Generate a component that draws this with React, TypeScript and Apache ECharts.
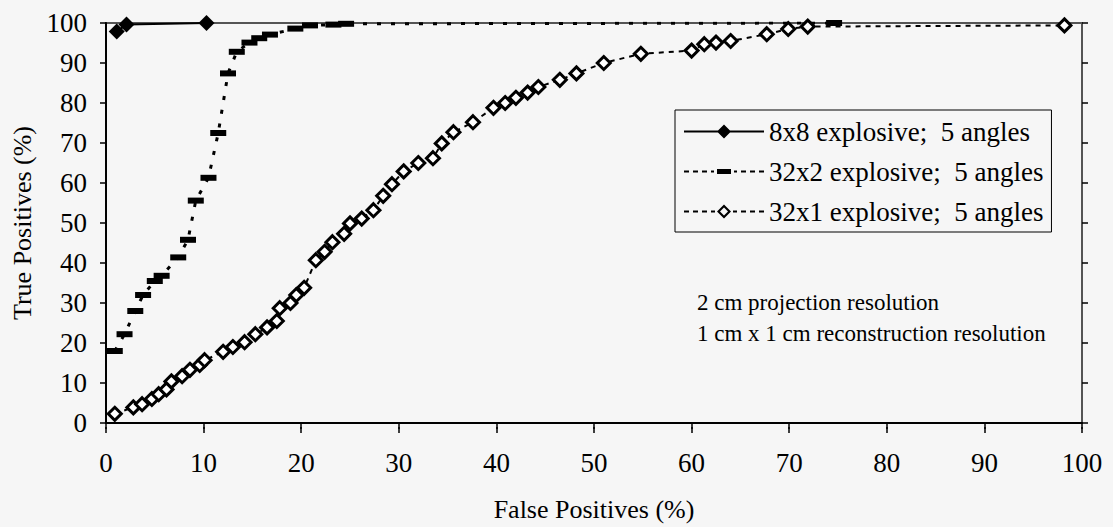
import { useEffect, useRef } from 'react';
import * as echarts from 'echarts';

const FONT = "'Liberation Serif', 'Times New Roman', serif";

const seriesNames = ['8x8 explosive;  5 angles', '32x2 explosive;  5 angles', '32x1 explosive;  5 angles'];

// [false positives %, true positives %]
const s8x8: number[][] = [[1.1, 97.9], [2.1, 99.6], [10.3, 100]];

const s32x2: number[][] = [
  [0.9, 18.0], [1.9, 22.2], [3.0, 28.0], [3.8, 32.0], [5.0, 35.5], [5.7, 36.8], [7.4, 41.4],
  [8.4, 45.8], [9.2, 55.6], [10.5, 61.3], [11.5, 72.5], [12.5, 87.4], [13.4, 92.8], [14.7, 95.1],
  [15.7, 96.2], [16.8, 97.1], [19.4, 98.6], [20.9, 99.4], [23.3, 99.6], [24.6, 99.8], [74.6, 100]
];

const s32x1: number[][] = [
  [0.9, 2.3], [2.8, 3.9], [3.7, 4.7], [4.7, 6.0], [5.4, 7.2], [6.2, 8.4], [6.7, 10.4], [7.8, 11.7],
  [8.6, 13.3], [9.6, 14.5], [10.1, 15.7], [12.0, 17.8], [13.0, 19.0], [14.2, 20.2], [15.3, 22.2],
  [16.5, 23.9], [17.5, 25.5], [17.8, 28.7], [18.9, 30.0], [19.5, 32.0], [20.3, 33.8], [21.5, 40.7],
  [22.4, 42.8], [23.2, 45.2], [24.4, 47.3], [25.0, 49.9], [26.2, 51.1], [27.4, 53.2], [28.4, 56.8],
  [29.3, 59.7], [30.5, 62.9], [32.0, 65.0], [33.5, 66.2], [34.4, 69.9], [35.6, 72.7], [37.6, 75.2],
  [39.7, 78.8], [40.9, 80.0], [42.0, 81.3], [43.2, 82.6], [44.3, 84.0], [46.5, 85.8], [48.2, 87.4],
  [51.0, 90.0], [54.8, 92.3], [60.0, 93.1], [61.3, 94.7], [62.5, 95.1], [64.0, 95.5], [67.7, 97.2],
  [69.9, 98.5], [71.9, 99.1], [98.2, 99.4]
];

const annotationLines = ['2 cm projection resolution', '1 cm x 1 cm reconstruction resolution'];

const AXIS_MIN = 0;
const AXIS_MAX = 100;
const AXIS_STEP = 10;

// legend icons (line + marker), drawn in an 80 x 14 box
const iconSolidDiamond = 'path://M0 6 L80 6 L80 8 L0 8 Z M40 0 L47 7 L40 14 L33 7 Z';
const iconDashRect =
  'path://M0 6 L5 6 L5 8 L0 8 Z M9 6 L14 6 L14 8 L9 8 Z M18 6 L23 6 L23 8 L18 8 Z M27 6 L30 6 L30 8 L27 8 Z ' +
  'M33 4.5 L47 4.5 L47 9.5 L33 9.5 Z ' +
  'M50 6 L53 6 L53 8 L50 8 Z M57 6 L62 6 L62 8 L57 8 Z M66 6 L71 6 L71 8 L66 8 Z M75 6 L80 6 L80 8 L75 8 Z';
const iconDashDiamond =
  'path://M0 6 L5 6 L5 8 L0 8 Z M9 6 L14 6 L14 8 L9 8 Z M18 6 L23 6 L23 8 L18 8 Z M27 6 L31 6 L31 8 L27 8 Z ' +
  'M40 0 L47 7 L40 14 L33 7 Z M40 3 L36 7 L40 11 L44 7 Z ' +
  'M49 6 L53 6 L53 8 L49 8 Z M57 6 L62 6 L62 8 L57 8 Z M66 6 L71 6 L71 8 L66 8 Z M75 6 L80 6 L80 8 L75 8 Z';

const GRID = { left: 106, right: 31, top: 23, bottom: 94 };
const W = 1113;
const H = 527;

export default function App() {
  const ref = useRef<HTMLDivElement>(null);
  useEffect(() => {
    const chart = echarts.init(ref.current!, null, { renderer: 'svg' });
    const gridW = W - GRID.left - GRID.right;
    const gridH = H - GRID.top - GRID.bottom;
    const labelStyle = { color: '#000', fontSize: 27, fontFamily: FONT };
    const nameStyle = { color: '#000', fontSize: 26, fontFamily: FONT };
    const tickLine = { color: '#000', width: 1.5 };
    chart.setOption({
      animation: false,
      backgroundColor: '#f6f6f6',
      textStyle: { fontFamily: FONT, color: '#000' },
      grid: { ...GRID, show: true, borderColor: '#555', borderWidth: 2, backgroundColor: 'transparent' },
      xAxis: [
        {
          type: 'value', min: AXIS_MIN, max: AXIS_MAX, interval: AXIS_STEP, position: 'bottom',
          name: 'False Positives (%)', nameLocation: 'middle', nameGap: 73,
          nameTextStyle: { ...nameStyle },
          axisLine: { show: true, lineStyle: { color: '#000', width: 2 } },
          axisTick: { show: true, inside: false, length: 6, lineStyle: tickLine },
          axisLabel: { ...labelStyle, margin: 26 },
          splitLine: { show: false }
        },
        {
          type: 'value', min: AXIS_MIN, max: AXIS_MAX, interval: AXIS_STEP, position: 'top', offset: -gridH,
          axisLine: { show: false },
          axisTick: { show: true, inside: false, length: 6, lineStyle: tickLine },
          axisLabel: { show: false },
          splitLine: { show: false }
        }
      ],
      yAxis: [
        {
          type: 'value', min: AXIS_MIN, max: AXIS_MAX, interval: AXIS_STEP, position: 'left',
          name: 'True Positives (%)', nameLocation: 'middle', nameGap: 68,
          nameTextStyle: { ...nameStyle },
          axisLine: { show: true, lineStyle: { color: '#000', width: 2 } },
          axisTick: { show: true, inside: false, length: 6, lineStyle: tickLine },
          axisLabel: { ...labelStyle, margin: 19 },
          splitLine: { show: false }
        },
        {
          type: 'value', min: AXIS_MIN, max: AXIS_MAX, interval: AXIS_STEP, position: 'right', offset: -gridW,
          axisLine: { show: false },
          axisTick: { show: true, inside: false, length: 6, lineStyle: tickLine },
          axisLabel: { show: false },
          splitLine: { show: false }
        }
      ],
      legend: {
        orient: 'vertical',
        left: 675,
        top: 110,
        padding: [8, 8, 7, 9],
        itemGap: 13,
        itemWidth: 80,
        itemHeight: 14,
        borderColor: '#000',
        borderWidth: 1,
        backgroundColor: '#f6f6f6',
        itemStyle: { color: '#000', borderWidth: 0 },
        textStyle: { ...labelStyle },
        data: [
          { name: seriesNames[0], icon: iconSolidDiamond },
          { name: seriesNames[1], icon: iconDashRect },
          { name: seriesNames[2], icon: iconDashDiamond }
        ]
      },
      graphic: annotationLines.map((t, i) => ({
        type: 'text',
        left: 697,
        top: 291 + i * 31,
        style: { text: t, fill: '#000', font: `23px ${FONT}` }
      })),
      series: [
        {
          name: seriesNames[0], type: 'line', data: s8x8, z: 5,
          symbol: 'diamond', symbolSize: 16,
          itemStyle: { color: '#000' },
          lineStyle: { color: '#000', width: 2 }
        },
        {
          name: seriesNames[1], type: 'line', data: s32x2, z: 4,
          symbol: 'rect', symbolSize: [16, 6],
          itemStyle: { color: '#000' },
          lineStyle: { color: '#000', width: 3, type: [4, 10] }
        },
        {
          name: seriesNames[2], type: 'line', data: s32x1, z: 3,
          symbol: 'diamond', symbolSize: 13,
          itemStyle: { color: '#fff', borderColor: '#000', borderWidth: 3 },
          lineStyle: { color: '#000', width: 2, type: [5, 5] }
        }
      ]
    });
    return () => chart.dispose();
  }, []);
  return <div ref={ref} style={{ position: 'fixed', left: 0, top: 0, width: W, height: H }} />;
}
